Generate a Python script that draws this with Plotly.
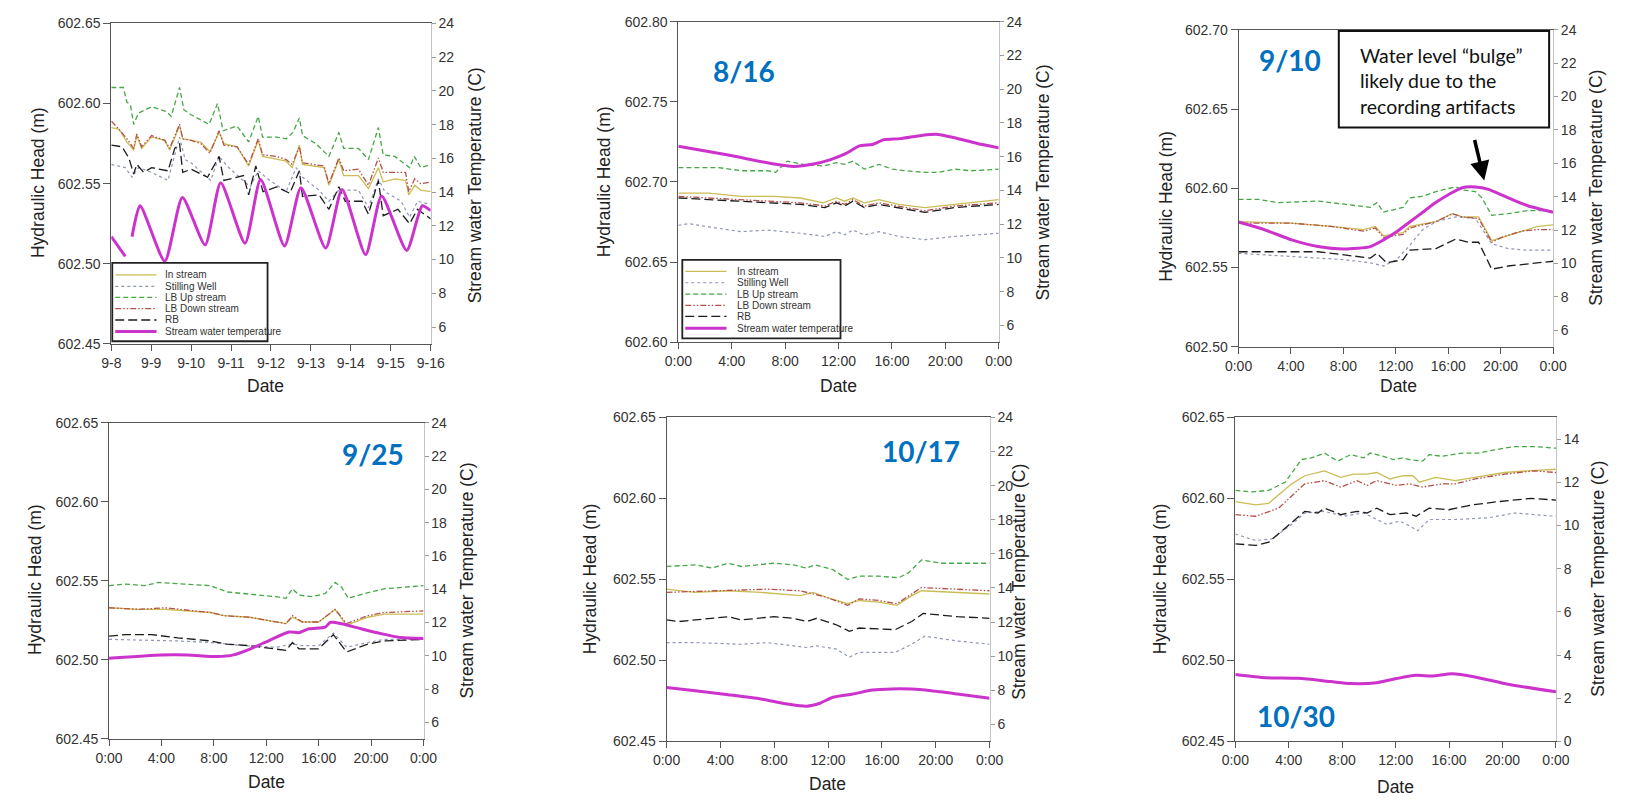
import plotly.graph_objects as go

W, H = 1627, 806
FONT = "Liberation Sans, Arial, sans-serif"
BLUE = "#0070C0"

# ------------------------------------------------------------------
# Line styles for the five head records and the stream temperature
# ------------------------------------------------------------------
SERIES = ["In stream", "Stilling Well", "LB Up stream", "LB Down stream", "RB"]
TEMP_NAME = "Stream water temperature"
STYLE = {
    "In stream": dict(color="#cbbd55", width=1.3, dash="solid"),
    "Stilling Well": dict(color="#8f95b8", width=1.2, dash="dot"),
    "LB Up stream": dict(color="#45a845", width=1.3, dash="5px,3px"),
    "LB Down stream": dict(color="#b5504a", width=1.3, dash="6px,2px,1.5px,2px,1.5px,2px"),
    "RB": dict(color="#1c1c1c", width=1.3, dash="9px,4px"),
    TEMP_NAME: dict(color="#cc33cc", width=3, dash="solid"),
}

# ------------------------------------------------------------------
# Week of 9-8 to 9-16 (x in days since 9-8 0:00)
# ------------------------------------------------------------------
wk_days = ["9-8", "9-9", "9-10", "9-11", "9-12", "9-13", "9-14", "9-15", "9-16"]

wk_in_t = [0.00, 0.19, 0.39, 0.56, 0.64, 0.76, 1.01, 1.34, 1.46, 1.71, 1.79, 2.00, 2.24, 2.47, 2.70, 2.82,
           3.15, 3.44, 3.68, 3.79, 4.14, 4.38, 4.53, 4.71, 4.79, 5.12, 5.33, 5.45, 5.70, 5.82, 6.19, 6.44,
           6.69, 6.81, 7.10, 7.37, 7.45, 7.60, 7.75, 8.00]
wk_in_h = [602.585, 602.584, 602.576, 602.571, 602.580, 602.572, 602.579, 602.577, 602.571, 602.586, 602.578,
           602.577, 602.576, 602.570, 602.582, 602.575, 602.573, 602.561, 602.577, 602.567, 602.565, 602.564,
           602.560, 602.574, 602.562, 602.561, 602.560, 602.549, 602.565, 602.555, 602.555, 602.547, 602.560,
           602.551, 602.553, 602.552, 602.543, 602.549, 602.546, 602.545]
wk_down_h = [602.589, 602.584, 602.578, 602.572, 602.581, 602.573, 602.580, 602.577, 602.572, 602.587, 602.578,
             602.577, 602.575, 602.569, 602.583, 602.574, 602.573, 602.562, 602.578, 602.568, 602.567, 602.565,
             602.562, 602.573, 602.563, 602.562, 602.561, 602.550, 602.566, 602.558, 602.559, 602.549, 602.566,
             602.557, 602.557, 602.557, 602.545, 602.553, 602.550, 602.551]
wk_up_t = [0.00, 0.30, 0.39, 0.48, 0.56, 0.68, 1.01, 1.38, 1.50, 1.71, 1.82, 2.00, 2.45, 2.66, 2.80, 3.15,
           3.44, 3.68, 3.79, 4.14, 4.38, 4.55, 4.71, 4.79, 5.12, 5.45, 5.70, 5.82, 6.19, 6.44, 6.69, 6.81,
           7.10, 7.47, 7.59, 7.75, 8.00]
wk_up_h = [602.610, 602.610, 602.601, 602.599, 602.587, 602.594, 602.598, 602.595, 602.592, 602.610, 602.596,
           602.593, 602.587, 602.600, 602.583, 602.586, 602.576, 602.592, 602.579, 602.579, 602.578, 602.582,
           602.591, 602.580, 602.575, 602.567, 602.582, 602.572, 602.572, 602.565, 602.585, 602.568, 602.567,
           602.560, 602.567, 602.560, 602.562]
wk_sw_t = [0.00, 0.35, 0.52, 0.68, 1.01, 1.42, 1.71, 1.85, 2.00, 2.49, 2.70, 2.90, 3.48, 3.68, 3.97, 4.38,
           4.63, 4.79, 5.20, 5.45, 5.70, 6.19, 6.44, 6.69, 6.85, 7.26, 7.47, 7.67, 8.00]
wk_sw_h = [602.562, 602.560, 602.554, 602.560, 602.557, 602.552, 602.579, 602.565, 602.563, 602.552, 602.567,
           602.561, 602.548, 602.558, 602.552, 602.545, 602.560, 602.554, 602.546, 602.539, 602.546, 602.546,
           602.535, 602.553, 602.545, 602.539, 602.529, 602.539, 602.537]
wk_rb_t = [0.00, 0.27, 0.44, 0.56, 0.64, 0.81, 1.01, 1.42, 1.59, 1.71, 1.79, 2.00, 2.41, 2.70, 2.82, 3.31,
           3.44, 3.62, 3.80, 4.14, 4.47, 4.71, 4.79, 5.20, 5.45, 5.70, 5.86, 6.28, 6.44, 6.69, 6.81, 7.18,
           7.47, 7.67, 8.00]
wk_rb_h = [602.574, 602.573, 602.566, 602.556, 602.562, 602.557, 602.560, 602.558, 602.572, 602.575, 602.557,
           602.559, 602.554, 602.567, 602.552, 602.555, 602.543, 602.561, 602.545, 602.548, 602.544, 602.558,
           602.542, 602.543, 602.534, 602.548, 602.539, 602.539, 602.531, 602.552, 602.530, 602.534, 602.525,
           602.534, 602.528]
wk_temp_t = [0.00, 0.35, 0.43, 0.52, 0.72, 1.34, 1.78, 2.35, 2.74, 3.35, 3.74, 4.34, 4.75, 5.37, 5.78, 6.37,
             6.77, 7.40, 7.79, 8.00]
wk_temp = [11.36, 10.19, None, 11.36, 13.19, 9.90, 13.68, 10.87, 14.55, 10.97, 14.74, 10.81, 14.26, 10.68,
           14.16, 10.29, 13.77, 10.54, 13.19, 12.90]

# ------------------------------------------------------------------
# Single days (x in hours since midnight)
# ------------------------------------------------------------------
hour_ticks = [0, 4, 8, 12, 16, 20, 24]
hour_labels = ["0:00", "4:00", "8:00", "12:00", "16:00", "20:00", "0:00"]

# 8/16
d816_in_t = [0, 2.26, 4.72, 7.17, 9.14, 10.86, 11.84, 12.45, 13.07, 13.93, 15.03, 16.50, 18.47, 20.68, 24]
d816_in_h = [602.693, 602.693, 602.691, 602.691, 602.690, 602.687, 602.690, 602.688, 602.690, 602.687,
             602.689, 602.686, 602.684, 602.686, 602.689]
d816_dn_t = [0, 4.72, 9.14, 10.98, 11.84, 12.45, 13.07, 13.93, 15.03, 18.47, 20.68, 24]
d816_dn_h = [602.691, 602.689, 602.687, 602.685, 602.688, 602.686, 602.689, 602.685, 602.687, 602.682,
             602.685, 602.687]
d816_rb_h = [602.690, 602.688, 602.686, 602.684, 602.687, 602.685, 602.688, 602.684, 602.686, 602.681,
             602.684, 602.686]
d816_up_t = [0, 3.0, 4.72, 6.68, 7.29, 8.15, 9.38, 10.86, 11.84, 12.45, 13.07, 13.93, 15.03, 16.01, 16.99,
             18.47, 19.45, 20.68, 21.91, 24]
d816_up_h = [602.709, 602.709, 602.707, 602.707, 602.706, 602.713, 602.711, 602.710, 602.712, 602.711,
             602.713, 602.708, 602.711, 602.708, 602.707, 602.706, 602.706, 602.708, 602.707, 602.708]
d816_sw_t = [0, 0.79, 2.26, 4.72, 6.68, 9.14, 10.98, 11.84, 12.45, 13.07, 13.93, 15.03, 16.50, 18.47, 20.68, 24]
d816_sw_h = [602.673, 602.674, 602.672, 602.669, 602.670, 602.668, 602.666, 602.669, 602.667, 602.670,
             602.667, 602.669, 602.666, 602.664, 602.666, 602.668]
d816_temp_t = [0, 3.73, 7.17, 8.65, 10.12, 11.35, 12.57, 13.56, 14.54, 15.40, 16.63, 18.22, 19.45, 20.68, 22.40, 24]
d816_temp = [16.62, 16.10, 15.56, 15.42, 15.56, 15.81, 16.19, 16.64, 16.72, 17.01, 17.07, 17.26, 17.32,
             17.12, 16.78, 16.52]

# 9/10
d910_in_t = [0, 4.05, 7.06, 9.56, 10.44, 11.06, 12.56, 13.06, 15.07, 16.32, 17.07, 18.32, 19.32, 20.07,
             21.57, 22.82, 24]
d910_in_h = [602.579, 602.578, 602.576, 602.574, 602.576, 602.570, 602.572, 602.576, 602.579, 602.584,
             602.582, 602.582, 602.567, 602.569, 602.573, 602.576, 602.577]
d910_dn_h = [602.578, 602.578, 602.576, 602.573, 602.575, 602.569, 602.571, 602.575, 602.579, 602.584,
             602.582, 602.581, 602.566, 602.569, 602.573, 602.574, 602.574]
d910_up_t = [0, 1.55, 3.05, 6.06, 8.06, 10.06, 10.56, 11.06, 12.56, 13.06, 14.06, 15.07, 16.57, 17.07,
             18.07, 18.57, 19.32, 20.57, 22.07, 24]
d910_up_h = [602.593, 602.593, 602.591, 602.592, 602.590, 602.588, 602.591, 602.585, 602.588, 602.594,
             602.595, 602.598, 602.601, 602.599, 602.598, 602.594, 602.583, 602.584, 602.586, 602.586]
d910_rb_t = [0, 4.05, 6.06, 8.06, 10.06, 10.56, 11.31, 12.56, 13.06, 15.07, 16.57, 17.57, 18.32, 19.32, 20.57, 24]
d910_rb_h = [602.560, 602.560, 602.560, 602.558, 602.556, 602.559, 602.553, 602.555, 602.561, 602.562,
             602.568, 602.566, 602.566, 602.549, 602.551, 602.554]
d910_sw_t = [0, 4.05, 8.06, 10.06, 11.06, 12.06, 13.06, 14.06, 15.07, 16.57, 18.07, 19.32, 20.57, 22.07, 24]
d910_sw_h = [602.559, 602.557, 602.555, 602.553, 602.551, 602.555, 602.564, 602.574, 602.579, 602.582,
             602.581, 602.565, 602.562, 602.561, 602.561]
d910_temp_t = [0, 2.05, 4.05, 6.06, 8.06, 10.06, 11.06, 12.06, 13.06, 14.06, 15.07, 16.07, 17.07, 18.07,
               19.07, 20.07, 21.07, 22.07, 24]
d910_temp = [12.48, 12.00, 11.41, 11.01, 10.86, 11.01, 11.41, 11.90, 12.48, 13.07, 13.66, 14.15, 14.54,
             14.58, 14.44, 14.11, 13.76, 13.46, 13.07]

# 9/25
d925_in_t = [0, 2.25, 4.25, 7.75, 8.75, 10.75, 12.75, 13.5, 14.0, 14.75, 16.0, 17.25, 18.125, 19.75, 21.0, 24]
d925_in_h = [602.533, 602.532, 602.532, 602.530, 602.528, 602.527, 602.524, 602.523, 602.527, 602.524,
             602.524, 602.532, 602.522, 602.527, 602.529, 602.529]
d925_dn_h = [602.533, 602.532, 602.533, 602.530, 602.528, 602.527, 602.524, 602.523, 602.528, 602.524,
             602.524, 602.532, 602.523, 602.528, 602.530, 602.531]
d925_up_t = [0, 1.25, 2.75, 3.75, 5.75, 7.75, 9.0, 10.25, 11.75, 12.75, 13.5, 14.0, 14.5, 15.5, 16.5, 17.25,
             17.75, 18.25, 19.5, 21.0, 22.5, 24]
d925_up_h = [602.547, 602.548, 602.547, 602.549, 602.548, 602.547, 602.543, 602.542, 602.541, 602.540,
             602.539, 602.545, 602.541, 602.540, 602.542, 602.549, 602.546, 602.539, 602.542, 602.545,
             602.546, 602.547]
d925_rb_t = [0, 1.25, 3.25, 5.25, 7.75, 9.0, 10.75, 12.75, 13.5, 14.0, 14.5, 16.0, 17.125, 18.125, 19.75, 21.0, 24]
d925_rb_h = [602.515, 602.516, 602.516, 602.514, 602.512, 602.510, 602.509, 602.507, 602.506, 602.511,
             602.507, 602.507, 602.516, 602.505, 602.510, 602.512, 602.513]
d925_sw_t = [0, 5.25, 7.75, 10.25, 12.75, 14.0, 14.75, 16.0, 17.125, 18.125, 19.75, 21.0, 24]
d925_sw_h = [602.513, 602.512, 602.511, 602.509, 602.508, 602.510, 602.509, 602.509, 602.517, 602.508,
             602.511, 602.513, 602.513]
d925_temp_t = [0, 4.0, 6.0, 8.25, 9.5, 10.75, 12.25, 13.75, 14.5, 15.25, 16.5, 16.875, 17.125, 17.75,
               19.25, 20.75, 22.25, 24]
d925_temp = [9.85, 10.05, 10.05, 9.95, 10.05, 10.40, 10.93, 11.43, 11.39, 11.62, 11.72, 12.01, 12.01,
             11.92, 11.62, 11.33, 11.09, 11.03]

# 10/17
d1017_in_t = [0, 2.14, 4.58, 7.01, 9.93, 10.90, 11.88, 13.46, 14.31, 15.77, 17.11, 18.21, 18.94, 21.61, 24]
d1017_in_h = [602.544, 602.542, 602.543, 602.542, 602.540, 602.542, 602.539, 602.535, 602.537, 602.536,
              602.534, 602.540, 602.543, 602.542, 602.541]
d1017_dn_t = [0, 4.58, 7.50, 9.93, 11.88, 13.46, 14.31, 15.77, 17.11, 18.94, 21.61, 24]
d1017_dn_h = [602.542, 602.543, 602.544, 602.543, 602.539, 602.534, 602.538, 602.537, 602.535, 602.545,
              602.544, 602.543]
d1017_up_t = [0, 2.14, 3.36, 4.58, 5.55, 7.98, 9.44, 10.42, 11.03, 12.36, 13.46, 14.31, 15.77, 17.23,
              17.96, 18.94, 20.40, 22.10, 24]
d1017_up_h = [602.558, 602.559, 602.557, 602.560, 602.558, 602.560, 602.559, 602.557, 602.559, 602.556,
              602.550, 602.552, 602.552, 602.551, 602.554, 602.562, 602.560, 602.560, 602.560]
d1017_rb_t = [0, 0.92, 4.58, 5.55, 7.98, 9.44, 10.42, 11.15, 12.61, 13.58, 14.31, 16.99, 18.21, 19.06, 21.61, 24]
d1017_rb_h = [602.525, 602.524, 602.527, 602.525, 602.527, 602.526, 602.524, 602.526, 602.522, 602.518,
              602.520, 602.519, 602.524, 602.529, 602.527, 602.526]
d1017_sw_t = [0, 2.14, 5.55, 7.50, 10.42, 11.15, 12.61, 13.58, 14.31, 16.99, 18.21, 19.18, 21.61, 24]
d1017_sw_h = [602.511, 602.511, 602.510, 602.511, 602.508, 602.509, 602.507, 602.502, 602.505, 602.505,
              602.510, 602.515, 602.512, 602.510]
d1017_temp_t = [0, 2.14, 4.58, 7.01, 8.96, 10.42, 11.39, 12.36, 13.83, 15.29, 16.75, 18.21, 19.67, 21.61, 24]
d1017_temp = [8.16, 7.97, 7.74, 7.49, 7.20, 7.07, 7.24, 7.59, 7.78, 8.01, 8.08, 8.07, 7.97, 7.78, 7.53]

# 10/30
d1030_in_t = [0, 1.52, 2.50, 4.22, 5.20, 6.67, 7.89, 8.87, 9.86, 10.59, 11.57, 12.55, 13.29, 13.78, 15.00,
              16.47, 17.94, 20.15, 21.87, 24]
d1030_in_h = [602.598, 602.596, 602.597, 602.609, 602.614, 602.617, 602.613, 602.615, 602.615, 602.616,
              602.612, 602.614, 602.614, 602.610, 602.613, 602.611, 602.613, 602.616, 602.617, 602.618]
d1030_dn_t = [0, 1.52, 3.24, 5.20, 6.67, 7.89, 9.12, 9.86, 10.59, 12.06, 13.04, 14.02, 15.49, 16.47, 17.94,
              20.15, 22.36, 24]
d1030_dn_h = [602.590, 602.589, 602.594, 602.609, 602.611, 602.607, 602.611, 602.608, 602.611, 602.608,
              602.609, 602.607, 602.609, 602.609, 602.612, 602.615, 602.617, 602.616]
d1030_up_t = [0, 1.27, 2.50, 3.73, 4.95, 5.69, 6.67, 7.65, 8.63, 9.61, 10.10, 11.08, 11.82, 12.55, 13.04,
              14.02, 14.51, 15.49, 16.96, 18.19, 19.42, 20.89, 22.36, 24]
d1030_up_h = [602.605, 602.604, 602.605, 602.610, 602.624, 602.625, 602.628, 602.623, 602.627, 602.625,
              602.628, 602.626, 602.624, 602.625, 602.624, 602.623, 602.627, 602.626, 602.628, 602.628,
              602.630, 602.632, 602.632, 602.631]
d1030_rb_t = [0, 1.52, 2.50, 4.22, 5.20, 6.18, 6.67, 7.89, 9.12, 9.86, 10.59, 11.57, 12.80, 13.53, 14.51,
              15.98, 17.70, 19.66, 22.11, 24]
d1030_rb_h = [602.572, 602.571, 602.573, 602.585, 602.592, 602.591, 602.594, 602.590, 602.592, 602.591,
              602.594, 602.590, 602.591, 602.589, 602.594, 602.593, 602.596, 602.598, 602.600, 602.599]
d1030_sw_t = [0, 1.52, 2.75, 4.22, 5.20, 6.67, 8.14, 9.61, 11.33, 12.31, 13.04, 13.65, 14.51, 16.47, 18.93,
              20.89, 22.36, 24]
d1030_sw_h = [602.578, 602.574, 602.575, 602.584, 602.591, 602.592, 602.589, 602.591, 602.584, 602.586,
              602.583, 602.580, 602.587, 602.587, 602.588, 602.591, 602.590, 602.589]
d1030_temp_t = [0, 2.26, 4.71, 7.16, 8.63, 10.59, 12.06, 13.53, 14.76, 16.23, 17.94, 20.40, 24]
d1030_temp = [3.10, 2.95, 2.92, 2.77, 2.68, 2.72, 2.91, 3.06, 3.03, 3.13, 2.98, 2.65, 2.30]


# ------------------------------------------------------------------
# Panel layout (pixel boxes of each plotting area)
# ------------------------------------------------------------------
def px(x):
    return x / W


def py(y):
    return 1 - y / H


panels = [
    dict(box=(99, 15.7, 424, 342.7), head=(602.45, 602.65), temp=(5, 24), temp_ticks=list(range(6, 25, 2)),
         xr=(0, 8), xt=list(range(9)), xl=wk_days,
         heads={"In stream": (wk_in_t, wk_in_h), "Stilling Well": (wk_sw_t, wk_sw_h),
                "LB Up stream": (wk_up_t, wk_up_h), "LB Down stream": (wk_in_t, wk_down_h),
                "RB": (wk_rb_t, wk_rb_h)},
         temps=(wk_temp_t, wk_temp),
         ltitle=(25, 178), rtitle=(469, 181), dtitle=(256, 386)),
    dict(box=(676, 14, 1002, 341), head=(602.60, 602.80), temp=(5, 24), temp_ticks=list(range(6, 25, 2)),
         xr=(0, 24), xt=hour_ticks, xl=hour_labels,
         heads={"In stream": (d816_in_t, d816_in_h), "Stilling Well": (d816_sw_t, d816_sw_h),
                "LB Up stream": (d816_up_t, d816_up_h), "LB Down stream": (d816_dn_t, d816_dn_h),
                "RB": (d816_dn_t, d816_rb_h)},
         temps=(d816_temp_t, d816_temp),
         ltitle=(601, 177), rtitle=(1048, 178), dtitle=(839, 386)),
    dict(box=(1246, 22.3, 1566, 345.7), head=(602.50, 602.70), temp=(5, 24), temp_ticks=list(range(6, 25, 2)),
         xr=(0, 24), xt=hour_ticks, xl=hour_labels,
         heads={"In stream": (d910_in_t, d910_in_h), "Stilling Well": (d910_sw_t, d910_sw_h),
                "LB Up stream": (d910_up_t, d910_up_h), "LB Down stream": (d910_in_t, d910_dn_h),
                "RB": (d910_rb_t, d910_rb_h)},
         temps=(d910_temp_t, d910_temp),
         ltitle=(1172, 202), rtitle=(1610, 183), dtitle=(1409, 386)),
    dict(box=(96.7, 423.3, 416.7, 745.7), head=(602.45, 602.65), temp=(5, 24), temp_ticks=list(range(6, 25, 2)),
         xr=(0, 24), xt=hour_ticks, xl=hour_labels,
         heads={"In stream": (d925_in_t, d925_in_h), "Stilling Well": (d925_sw_t, d925_sw_h),
                "LB Up stream": (d925_up_t, d925_up_h), "LB Down stream": (d925_in_t, d925_dn_h),
                "RB": (d925_rb_t, d925_rb_h)},
         temps=(d925_temp_t, d925_temp),
         ltitle=(22, 583), rtitle=(461, 584), dtitle=(257, 790)),
    dict(box=(664, 417.7, 992.7, 748.3), head=(602.45, 602.65), temp=(5, 24), temp_ticks=list(range(6, 25, 2)),
         xr=(0, 24), xt=hour_ticks, xl=hour_labels,
         heads={"In stream": (d1017_in_t, d1017_in_h), "Stilling Well": (d1017_sw_t, d1017_sw_h),
                "LB Up stream": (d1017_up_t, d1017_up_h), "LB Down stream": (d1017_dn_t, d1017_dn_h),
                "RB": (d1017_rb_t, d1017_rb_h)},
         temps=(d1017_temp_t, d1017_temp),
         ltitle=(587, 582), rtitle=(1023, 585), dtitle=(828, 792)),
    dict(box=(1242.7, 417.7, 1569, 748.3), head=(602.45, 602.65), temp=(0, 15), temp_ticks=list(range(0, 15, 2)),
         xr=(0, 24), xt=hour_ticks, xl=hour_labels,
         heads={"In stream": (d1030_in_t, d1030_in_h), "Stilling Well": (d1030_sw_t, d1030_sw_h),
                "LB Up stream": (d1030_up_t, d1030_up_h), "LB Down stream": (d1030_dn_t, d1030_dn_h),
                "RB": (d1030_rb_t, d1030_rb_h)},
         temps=(d1030_temp_t, d1030_temp),
         ltitle=(1167, 582), rtitle=(1612, 582), dtitle=(1406, 795)),
]

fig = go.Figure()
layout = dict(width=W, height=H, margin=dict(l=0, r=0, t=0, b=0), paper_bgcolor="white",
              plot_bgcolor="white", showlegend=False, font=dict(family=FONT, color="#333"))
annotations = []
shapes = []

tickfont = dict(family=FONT, size=14, color="#333")
title_font = dict(family=FONT, size=17.5, color="#222")

for i, p in enumerate(panels):
    n = i + 1
    xname = "x" if n == 1 else f"x{n}"
    yl_name = "y" if n == 1 else f"y{2 * n - 1}"
    yr_name = f"y{2 * n}"
    x0, y0, x1, y1 = p["box"]

    for name in SERIES:
        t, h = p["heads"][name]
        fig.add_trace(go.Scatter(x=t, y=h, mode="lines", name=name, line=STYLE[name],
                                 xaxis=xname, yaxis=yl_name, hoverinfo="skip"))
    tt, tv = p["temps"]
    fig.add_trace(go.Scatter(x=tt, y=tv, mode="lines", name=TEMP_NAME,
                             line=dict(**STYLE[TEMP_NAME], shape="spline", smoothing=0.6),
                             xaxis=xname, yaxis=yr_name, hoverinfo="skip"))

    xkey = "xaxis" if n == 1 else f"xaxis{n}"
    ylkey = "yaxis" if n == 1 else f"yaxis{2 * n - 1}"
    yrkey = f"yaxis{2 * n}"
    hlo, hhi = p["head"]
    hticks = [round(hlo + 0.05 * k, 2) for k in range(5)]
    layout[xkey] = dict(domain=[px(x0), px(x1)], range=list(p["xr"]), anchor=yl_name,
                        tickvals=p["xt"], ticktext=p["xl"], showline=True, linecolor="#555", linewidth=1,
                        mirror=True, ticks="outside", ticklen=6, tickcolor="#555", tickfont=tickfont,
                        showgrid=False, zeroline=False, fixedrange=True)
    layout[ylkey] = dict(domain=[py(y1), py(y0)], range=[hlo - 1e-6, hhi + 1e-6], anchor=xname,
                         tickvals=hticks, ticktext=[f"{v:.2f}" for v in hticks], showline=True,
                         linecolor="#555", linewidth=1, ticks="outside", ticklen=7, tickcolor="#555",
                         tickfont=tickfont, showgrid=False, zeroline=False, fixedrange=True)
    tlo, thi = p["temp"]
    layout[yrkey] = dict(overlaying=yl_name, side="right", anchor=xname, range=[tlo, thi],
                         tickvals=p["temp_ticks"], ticktext=[str(v) for v in p["temp_ticks"]],
                         showline=True, linecolor="#c4c4c4", linewidth=1, ticks="outside", ticklen=4,
                         tickcolor="#9a9a9a", tickfont=tickfont, showgrid=False, zeroline=False,
                         fixedrange=True)

    # axis titles
    lx, ly = p["ltitle"]
    annotations.append(dict(text="Hydraulic Head (m)", x=px(lx), y=py(ly), xref="paper", yref="paper",
                            showarrow=False, textangle=-90, font=title_font, xanchor="center",
                            yanchor="middle"))
    rx, ry = p["rtitle"]
    annotations.append(dict(text="Stream water Temperature (C)", x=px(rx), y=py(ry), xref="paper",
                            yref="paper", showarrow=False, textangle=-90, font=title_font,
                            xanchor="center", yanchor="middle"))
    dx, dy = p["dtitle"]
    annotations.append(dict(text="Date", x=px(dx), y=py(dy), xref="paper", yref="paper", showarrow=False,
                            font=title_font, xanchor="center", yanchor="middle"))

# ------------------------------------------------------------------
# Keys for the first two panels
# ------------------------------------------------------------------
KEY_ORDER = SERIES + [TEMP_NAME]


def add_key(box, rows, sample_x, text_x):
    bx0, by0, bx1, by1 = box
    shapes.append(dict(type="rect", xref="paper", yref="paper", x0=px(bx0), x1=px(bx1), y0=py(by1),
                       y1=py(by0), line=dict(color="#222", width=1.8), fillcolor="white", layer="above"))
    for name, ry in zip(KEY_ORDER, rows):
        st = STYLE[name]
        shapes.append(dict(type="line", xref="paper", yref="paper", x0=px(sample_x[0]), x1=px(sample_x[1]),
                           y0=py(ry), y1=py(ry), layer="above",
                           line=dict(color=st["color"], width=st["width"], dash=st["dash"])))
        annotations.append(dict(text=name, x=px(text_x), y=py(ry), xref="paper", yref="paper",
                                showarrow=False, xanchor="left", yanchor="middle",
                                font=dict(family=FONT, size=10, color="#333")))


add_key((100, 260, 258, 340), [272.3, 284, 295.3, 306.7, 318.3, 330], (103, 145), 152)
add_key((680, 257, 841, 337), [268.7, 280.3, 292, 303.3, 314.7, 326.7], (683, 725), 734)

# ------------------------------------------------------------------
# Date labels and the note on the 9/10 panel
# ------------------------------------------------------------------
date_tags = [("8/16", 743, 64), ("9/10", 1298, 53), ("9/25", 365, 455), ("10/17", 923, 452),
             ("10/30", 1304, 722)]
for txt, tx, ty in date_tags:
    annotations.append(dict(text=f"<b>{txt}</b>", x=px(tx), y=py(ty), xref="paper", yref="paper",
                            showarrow=False, xanchor="center", yanchor="middle",
                            font=dict(family="Lato, Open Sans, sans-serif", size=28, color=BLUE)))

shapes.append(dict(type="rect", xref="paper", yref="paper", x0=px(1348), x1=px(1562), y0=py(122), y1=py(23.5),
                   line=dict(color="#111", width=2), fillcolor="white", layer="above"))
annotations.append(dict(text="Water level \u201cbulge\u201d<br>likely due to the<br>recording artifacts",
                        x=px(1368), y=py(74), xref="paper", yref="paper", showarrow=False, xanchor="left",
                        yanchor="middle", align="left",
                        font=dict(family="Lato, Open Sans, sans-serif", size=19.5, color="#111")))
annotations.append(dict(text="", x=px(1496), y=py(176), xref="paper", yref="paper", showarrow=True,
                        ax=-10, ay=-42, arrowhead=2, arrowsize=1.1, arrowwidth=3.5, arrowcolor="#000"))

layout["annotations"] = annotations
layout["shapes"] = shapes
fig.update_layout(**layout)

fig.write_html("out.html")
